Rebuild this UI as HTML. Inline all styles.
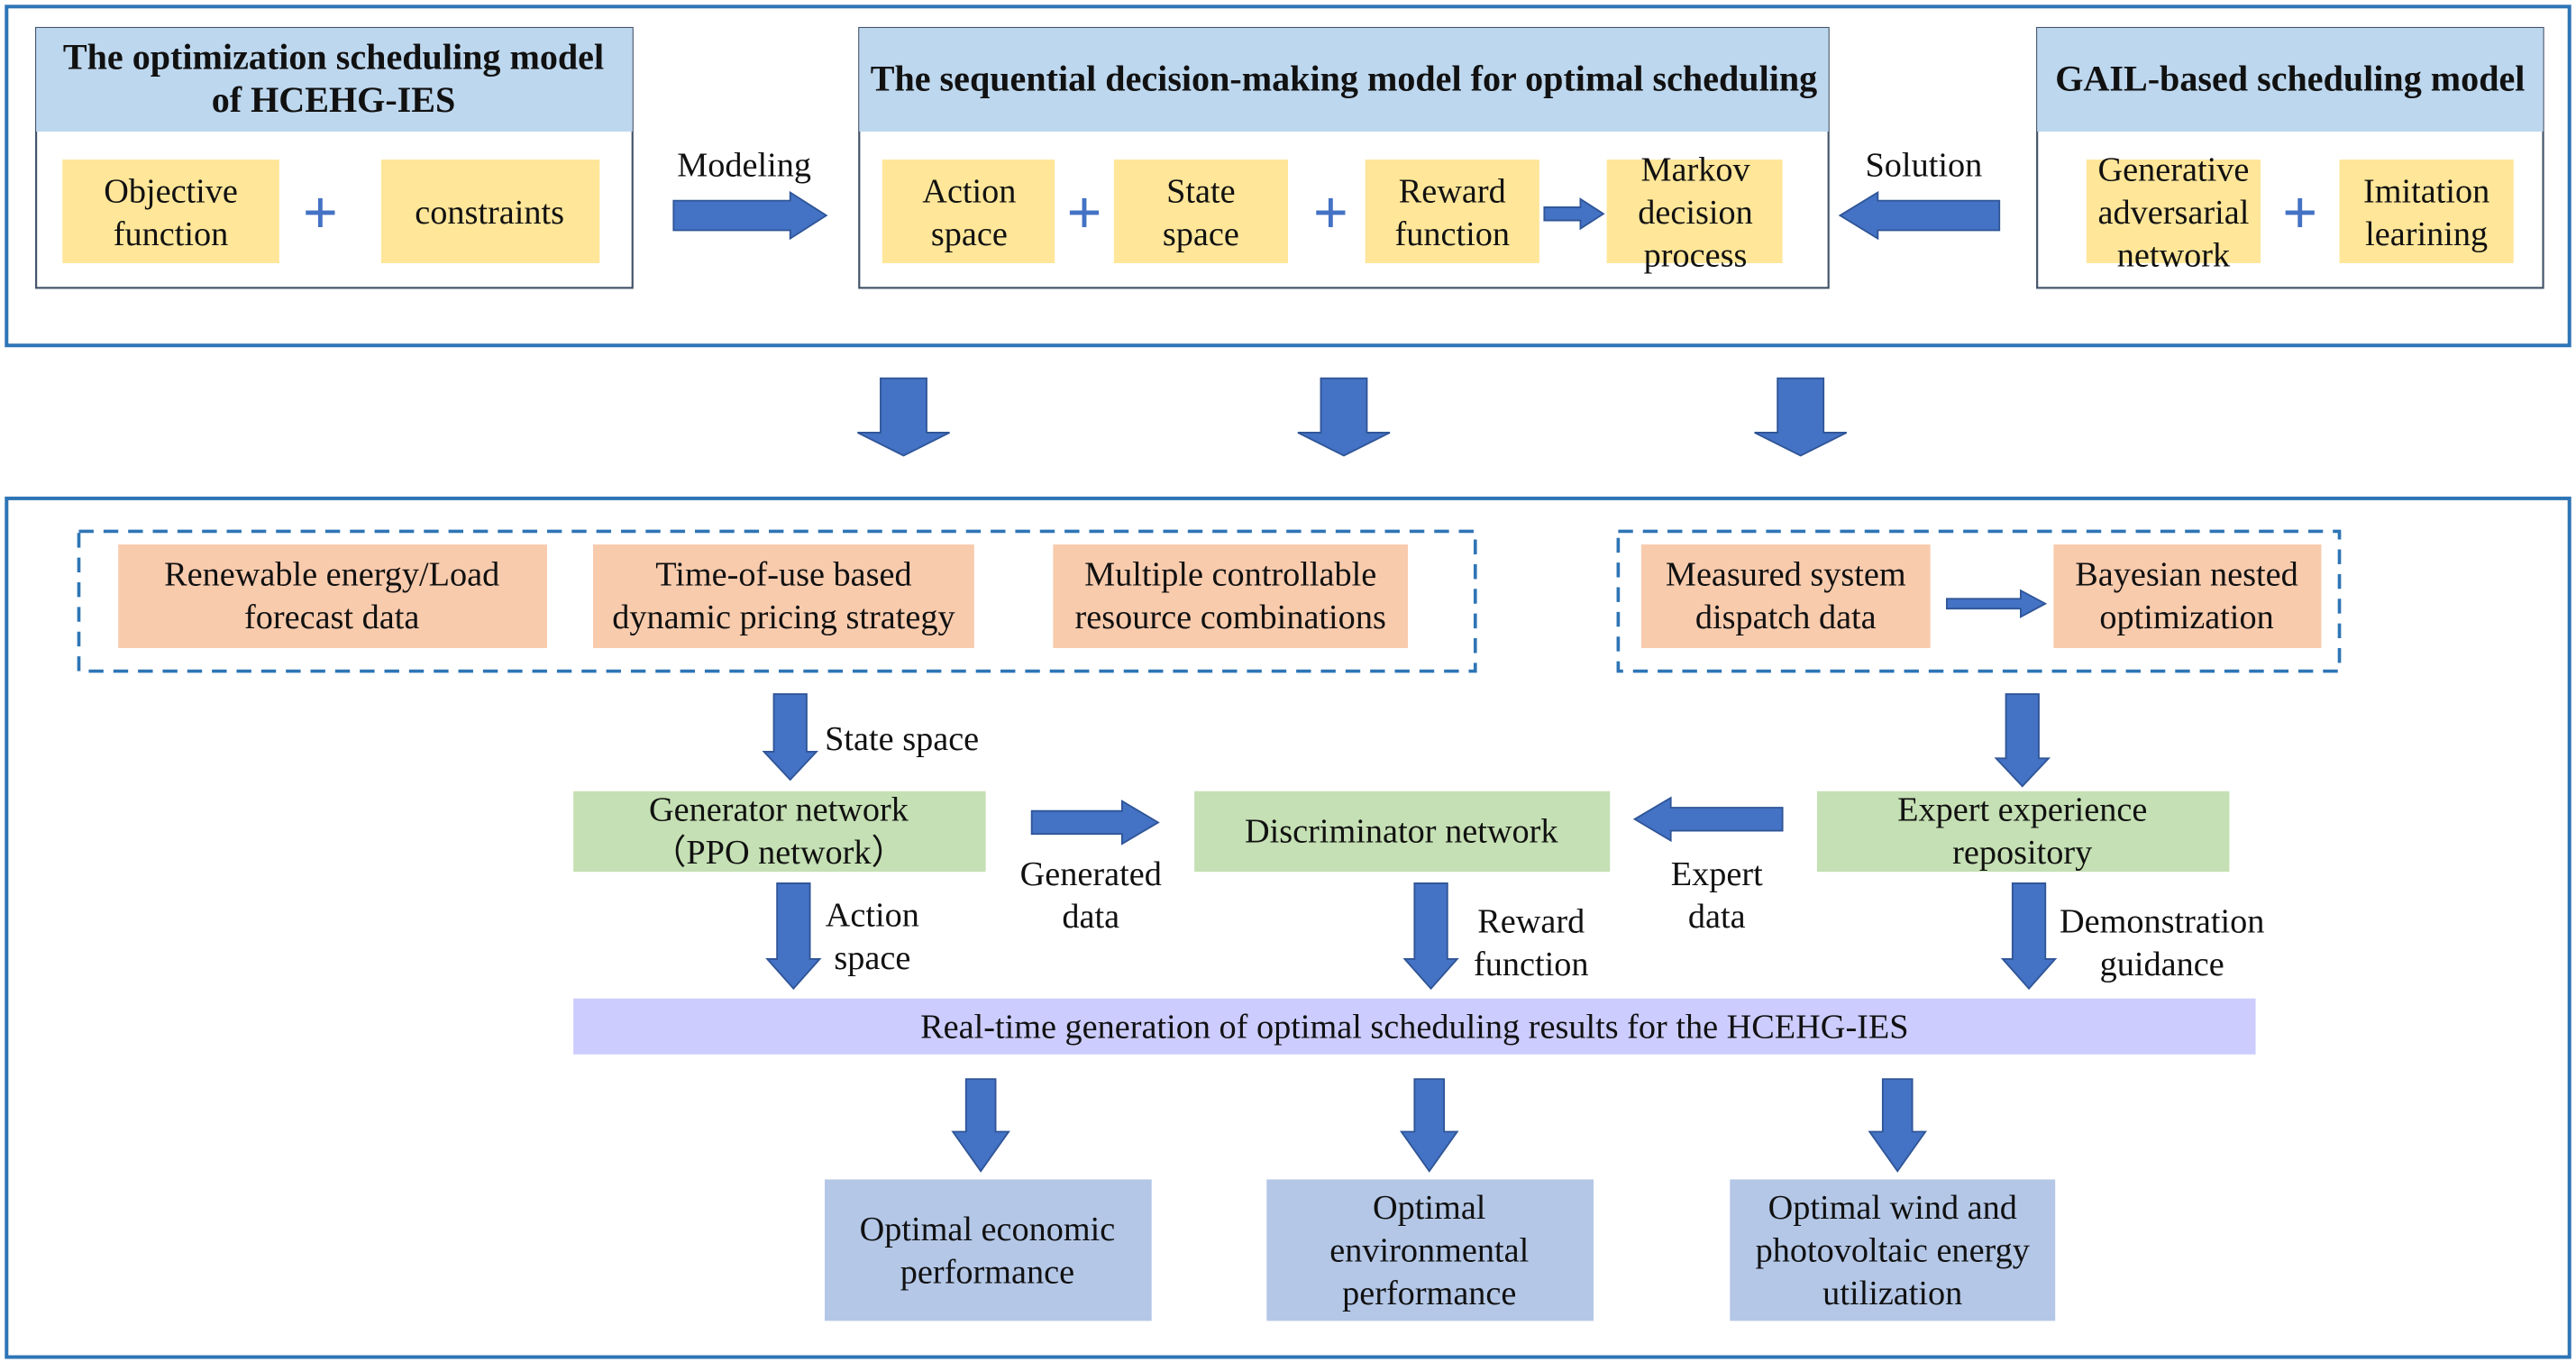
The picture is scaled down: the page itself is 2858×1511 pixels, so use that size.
<!DOCTYPE html>
<html><head><meta charset="utf-8"><style>
html,body{margin:0;padding:0;background:#fff;}
svg{display:block;}
text{font-family:"Liberation Serif",serif;fill:#111;}
text.plus{fill:#4472c4;}
</style></head><body>
<svg width="2858" height="1511" viewBox="0 0 1568 828" preserveAspectRatio="none" xmlns="http://www.w3.org/2000/svg">
<g fill="none" stroke="#2e75b6" stroke-width="2.2">
<rect x="4" y="4" width="1560" height="206"/>
<rect x="4" y="303" width="1560" height="522"/>
</g>
<g stroke="#44546a" stroke-width="1.2" fill="#fff">
<rect x="22" y="17" width="363" height="158"/>
<rect x="523" y="17" width="590" height="158"/>
<rect x="1240" y="17" width="308" height="158"/>
</g>
<g fill="#bdd7ee">
<rect x="22" y="17" width="363" height="63"/>
<rect x="523" y="17" width="590" height="63"/>
<rect x="1240" y="17" width="308" height="63"/>
</g>
<g font-weight="bold" font-size="22" text-anchor="middle">
<text x="203" y="42">The optimization scheduling model</text>
<text x="203" y="68">of HCEHG-IES</text>
<text x="818" y="55">The sequential decision-making model for optimal scheduling</text>
<text x="1394" y="55">GAIL-based scheduling model</text>
</g>
<g fill="#ffe699">
<rect x="38" y="97" width="132" height="63"/>
<rect x="232" y="97" width="133" height="63"/>
<rect x="537" y="97" width="105" height="63"/>
<rect x="678" y="97" width="106" height="63"/>
<rect x="831" y="97" width="106" height="63"/>
<rect x="978" y="97" width="107" height="63"/>
<rect x="1270" y="97" width="106" height="63"/>
<rect x="1424" y="97" width="106" height="63"/>
</g>
<g font-size="21" text-anchor="middle">
<text x="104" y="123">Objective</text><text x="104" y="149">function</text>
<text x="298" y="136">constraints</text>
<text x="590" y="123">Action</text><text x="590" y="149">space</text>
<text x="731" y="123">State</text><text x="731" y="149">space</text>
<text x="884" y="123">Reward</text><text x="884" y="149">function</text>
<text x="1032" y="110">Markov</text><text x="1032" y="136">decision</text><text x="1032" y="162">process</text>
<text x="1323" y="110">Generative</text><text x="1323" y="136">adversarial</text><text x="1323" y="162">network</text>
<text x="1477" y="123">Imitation</text><text x="1477" y="149">learining</text>
<text x="453" y="107">Modeling</text>
<text x="1171" y="107">Solution</text>
</g>
<g font-size="38" font-weight="bold" text-anchor="middle">
<text class="plus" x="195" y="142">+</text>
<text class="plus" x="660" y="142">+</text>
<text class="plus" x="810" y="142">+</text>
<text class="plus" x="1400" y="142">+</text>
</g>
<g fill="#4472c4" stroke="#2f5597" stroke-width="1">
<polygon points="410,122 481,122 481,117 503,131 481,145 481,140 410,140"/>
<polygon points="1217,122 1143,122 1143,117 1120,131 1143,145 1143,140 1217,140"/>
<polygon points="940,126 962,126 962,121 976,130 962,139 962,134 940,134"/>
<polygon points="536,230 564,230 564,263 578,263 550,277 522,263 536,263"/>
<polygon points="804,230 832,230 832,263 846,263 818,277 790,263 804,263"/>
<polygon points="1082,230 1110,230 1110,263 1124,263 1096,277 1068,263 1082,263"/>
<polygon points="471,422 491,422 491,457 497,457 481,474 465,457 471,457"/>
<polygon points="1221,422 1241,422 1241,461 1247,461 1231,478 1215,461 1221,461"/>
<polygon points="628,493 683,493 683,487 705,500 683,513 683,507 628,507"/>
<polygon points="1085,491 1017,491 1017,485 995,498 1017,511 1017,505 1085,505"/>
<polygon points="473,537 493,537 493,583 499,583 483,601 467,583 473,583"/>
<polygon points="861,537 881,537 881,583 887,583 871,601 855,583 861,583"/>
<polygon points="1225,537 1245,537 1245,583 1251,583 1235,601 1219,583 1225,583"/>
<polygon points="1185,364 1230,364 1230,359 1245,367 1230,375 1230,370 1185,370"/>
<polygon points="588,656 606,656 606,688 614,688 597,712 580,688 588,688"/>
<polygon points="861,656 879,656 879,688 887,688 870,712 853,688 861,688"/>
<polygon points="1146,656 1164,656 1164,688 1172,688 1155,712 1138,688 1146,688"/>
</g>
<g fill="none" stroke="#2e75b6" stroke-width="2" stroke-dasharray="9,6">
<rect x="48" y="323" width="850" height="85"/>
<rect x="985" y="323" width="439" height="85"/>
</g>
<g fill="#f8cbad">
<rect x="72" y="331" width="261" height="63"/>
<rect x="361" y="331" width="232" height="63"/>
<rect x="641" y="331" width="216" height="63"/>
<rect x="999" y="331" width="176" height="63"/>
<rect x="1250" y="331" width="163" height="63"/>
</g>
<g fill="#c5e0b4">
<rect x="349" y="481" width="251" height="49"/>
<rect x="727" y="481" width="253" height="49"/>
<rect x="1106" y="481" width="251" height="49"/>
</g>
<rect x="349" y="607" width="1024" height="34" fill="#ccccff"/>
<g fill="#b4c7e7">
<rect x="502" y="717" width="199" height="86"/>
<rect x="771" y="717" width="199" height="86"/>
<rect x="1053" y="717" width="198" height="86"/>
</g>
<g font-size="21" text-anchor="middle">
<text x="202" y="356">Renewable energy/Load</text><text x="202" y="382">forecast data</text>
<text x="477" y="356">Time-of-use based</text><text x="477" y="382">dynamic pricing strategy</text>
<text x="749" y="356">Multiple controllable</text><text x="749" y="382">resource combinations</text>
<text x="1087" y="356">Measured system</text><text x="1087" y="382">dispatch data</text>
<text x="1331" y="356">Bayesian nested</text><text x="1331" y="382">optimization</text>
<text x="549" y="456">State space</text>
<text x="474" y="499">Generator network</text><text x="474" y="525">（PPO network）</text>
<text x="853" y="512">Discriminator network</text>
<text x="1231" y="499">Expert experience</text><text x="1231" y="525">repository</text>
<text x="664" y="538">Generated</text><text x="664" y="564">data</text>
<text x="1045" y="538">Expert</text><text x="1045" y="564">data</text>
<text x="531" y="563">Action</text><text x="531" y="589">space</text>
<text x="932" y="567">Reward</text><text x="932" y="593">function</text>
<text x="1316" y="567">Demonstration</text><text x="1316" y="593">guidance</text>
<text x="861" y="631">Real-time generation of optimal scheduling results for the HCEHG-IES</text>
<text x="601" y="754">Optimal economic</text><text x="601" y="780">performance</text>
<text x="870" y="741">Optimal</text><text x="870" y="767">environmental</text><text x="870" y="793">performance</text>
<text x="1152" y="741">Optimal wind and</text><text x="1152" y="767">photovoltaic energy</text><text x="1152" y="793">utilization</text>
</g>
</svg>
</body></html>
